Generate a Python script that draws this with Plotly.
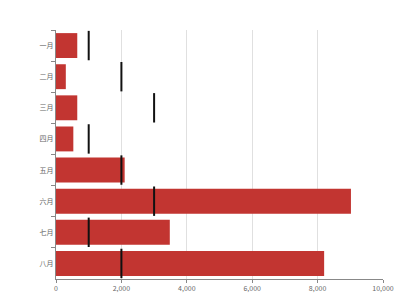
import plotly.graph_objects as go

months = ["一月", "二月", "三月", "四月", "五月", "六月", "七月", "八月"]
actual = [650, 300, 650, 530, 2100, 9020, 3480, 8200]
target = [1000, 2000, 3000, 1000, 2000, 3000, 1000, 2000]
x_ticks = [0, 2000, 4000, 6000, 8000, 10000]

fig = go.Figure()
fig.add_trace(go.Bar(
    y=months, x=actual, orientation="h", width=0.8,
    marker=dict(color="#c23531", line=dict(width=0)),
    showlegend=False, hoverinfo="x+y",
))
fig.add_trace(go.Scatter(
    y=months, x=target, mode="markers",
    marker=dict(symbol="line-ns", size=21, line=dict(width=2, color="#111111"), color="#111111"),
    showlegend=False,
))

fig.update_layout(
    template="none",
    width=400, height=300,
    margin=dict(l=56, r=17, t=30, b=21, autoexpand=False),
    paper_bgcolor="white", plot_bgcolor="white",
    font=dict(family="Noto Sans CJK SC, Noto Sans, sans-serif", size=7, color="#666666"),
    bargap=0.2,
)
fig.update_xaxes(
    range=[0, 10000], tickvals=x_ticks, tickformat=",d", automargin=False,
    showgrid=True, gridcolor="#e0e0e0", gridwidth=1,
    showline=True, linecolor="#888888", linewidth=1,
    ticks="outside", ticklen=3, tickcolor="#888888",
    zeroline=False, tickfont=dict(size=7, color="#666666"),
)
fig.update_yaxes(
    type="category", categoryorder="array", categoryarray=months,
    range=[len(months) - 0.5, -0.5], automargin=False,
    showgrid=False, showline=True, linecolor="#888888", linewidth=1,
    ticks="outside", ticklen=4, tickcolor="#888888", tickson="boundaries",
    tickfont=dict(size=7, color="#666666"),
)

fig.write_html("out.html")
